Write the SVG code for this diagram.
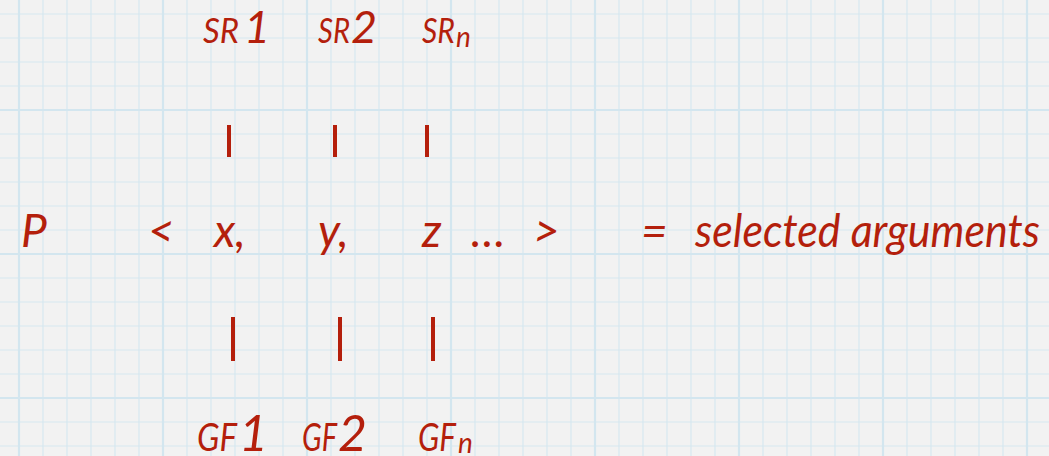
<svg xmlns="http://www.w3.org/2000/svg" width="1049" height="456" viewBox="0 0 1049 456">
<style>
.t{font-family:Lato,"Open Sans","Liberation Sans",sans-serif;font-style:italic;fill:#b41f0c}
.sr{font-size:35px}
.gf{font-size:38px}
.d1{font-size:45px}
.d2{font-size:50px}
.sub{font-size:28px}
.m{font-size:46px}
.bar{stroke:#b41f0c;stroke-width:4}
</style>
<defs>
<pattern id="grid" x="19" y="-34" width="144" height="144" patternUnits="userSpaceOnUse">
<g stroke="#d6e8f0" stroke-width="1.2">
<line x1="24" y1="0" x2="24" y2="144"/><line x1="48" y1="0" x2="48" y2="144"/><line x1="72" y1="0" x2="72" y2="144"/><line x1="96" y1="0" x2="96" y2="144"/><line x1="120" y1="0" x2="120" y2="144"/>
<line x1="0" y1="24" x2="144" y2="24"/><line x1="0" y1="48" x2="144" y2="48"/><line x1="0" y1="72" x2="144" y2="72"/><line x1="0" y1="96" x2="144" y2="96"/><line x1="0" y1="120" x2="144" y2="120"/>
</g>
<g stroke="#d3e6ef" stroke-width="2.2">
<line x1="0" y1="0" x2="0" y2="144"/><line x1="144" y1="0" x2="144" y2="144"/>
<line x1="0" y1="0" x2="144" y2="0"/><line x1="0" y1="144" x2="144" y2="144"/>
</g>
</pattern>
</defs>
<rect width="1049" height="456" fill="#f2f2f2"/>
<rect width="1049" height="456" fill="url(#grid)"/>

<g id="sr1"><text class="t sr" x="203" y="43"><tspan textLength="36" lengthAdjust="spacingAndGlyphs">SR</tspan><tspan class="d1" x="244">1</tspan></text></g>
<g id="sr2"><text class="t sr" x="318" y="43"><tspan textLength="32" lengthAdjust="spacingAndGlyphs">SR</tspan><tspan class="d1" x="351">2</tspan></text></g>
<g id="srn"><text class="t sr" x="422" y="43"><tspan textLength="33" lengthAdjust="spacingAndGlyphs">SR</tspan><tspan class="sub" x="456" y="47">n</tspan></text></g>

<g id="row">
<text class="t m" x="21" y="247">P</text>
<text class="t m" x="148" y="247">&lt;</text>
<text class="t m" x="214" y="247">x,</text>
<text class="t m" x="318" y="247">y,</text>
<text class="t m" x="422" y="247">z</text>
<text class="t m" x="471" y="247">…</text>
<text class="t m" x="533" y="247">&gt;</text>
<text class="t m" x="641" y="247">=</text>
<text class="t m" x="695" y="247" textLength="345" lengthAdjust="spacingAndGlyphs">selected arguments</text>
</g>

<g id="gf1"><text class="t gf" x="197" y="451"><tspan textLength="40" lengthAdjust="spacingAndGlyphs">GF</tspan><tspan class="d2" x="239">1</tspan></text></g>
<g id="gf2"><text class="t gf" x="302" y="451"><tspan textLength="35" lengthAdjust="spacingAndGlyphs">GF</tspan><tspan class="d2" x="338">2</tspan></text></g>
<g id="gfn"><text class="t gf" x="418" y="451"><tspan textLength="38" lengthAdjust="spacingAndGlyphs">GF</tspan><tspan class="sub" x="458" y="453">n</tspan></text></g>

<g id="connectors" class="bar">
<line x1="229" y1="125" x2="229" y2="157"/>
<line x1="335" y1="125" x2="335" y2="157"/>
<line x1="427" y1="125" x2="427" y2="157"/>
<line x1="233" y1="317" x2="233" y2="361"/>
<line x1="340" y1="317" x2="340" y2="361"/>
<line x1="433" y1="317" x2="433" y2="361"/>
</g>
</svg>
